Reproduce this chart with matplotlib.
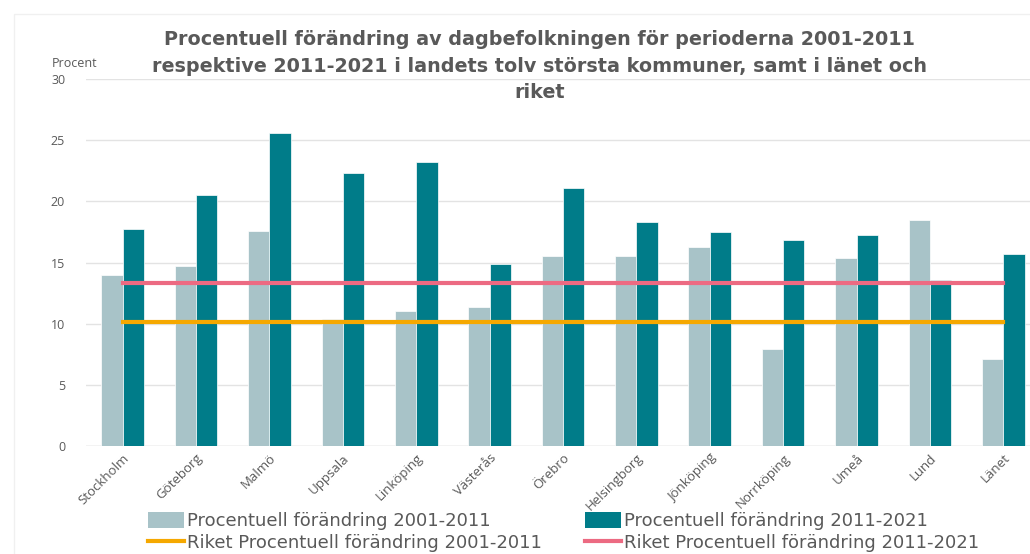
import numpy as np
import matplotlib
matplotlib.use("Agg")
import matplotlib.pyplot as plt
from matplotlib.patches import Rectangle
from matplotlib.lines import Line2D
from matplotlib.patches import Patch

kommuner = ['Stockholm', 'Göteborg', 'Malmö', 'Uppsala', 'Linköping', 'Västerås',
            'Örebro', 'Helsingborg', 'Jönköping', 'Norrköping', 'Umeå', 'Lund', 'Länet']
andring_2001_2011 = [14.0, 14.75, 17.6, 10.4, 11.0, 11.4, 15.5, 15.5, 16.3, 7.9, 15.4, 18.5, 7.1]
andring_2011_2021 = [17.7, 20.5, 25.6, 22.35, 23.2, 14.9, 21.1, 18.3, 17.5, 16.8, 17.25, 13.6, 15.7]
riket_2001_2011 = 10.1
riket_2011_2021 = 13.3
y_ticks = [0, 5, 10, 15, 20, 25, 30]

c_light = '#A8C3C8'
c_dark = '#007C89'
c_orange = '#F5A800'
c_pink = '#EC6A82'
c_text = '#595959'

plt.rcParams['font.family'] = ['Open Sans', 'DejaVu Sans']

fig = plt.figure(figsize=(10.30, 5.54), dpi=100)
# faint chart frame
fig.patches.append(Rectangle((14 / 1030, -0.1), 1.2, (554 - 14) / 554 + 0.1,
                             transform=fig.transFigure, fill=False,
                             edgecolor='#F0F0F0', linewidth=1))

# axes: y=0 at px 446, y=30 at px 79; x from 86 to 1040
ax = fig.add_axes([86 / 1030, (554 - 446) / 554, (1040 - 86) / 1030, (446 - 79) / 554])

x = np.arange(len(kommuner))
w = 0.29
ax.bar(x - w / 2, andring_2001_2011, width=w, color=c_light, edgecolor='white', linewidth=0.5, zorder=2)
ax.bar(x + w / 2, andring_2011_2021, width=w, color=c_dark, edgecolor='white', linewidth=0.5, zorder=2)
ax.plot(x, [riket_2001_2011] * len(x), color=c_orange, linewidth=3, zorder=3)
ax.plot(x, [riket_2011_2021] * len(x), color=c_pink, linewidth=3, zorder=3)

ax.set_xlim(-0.5, len(kommuner) - 0.5)
ax.set_ylim(0, 30)
ax.set_yticks(y_ticks)
ax.set_yticklabels([str(t) for t in y_ticks], color=c_text, fontsize=9)
ax.set_xticks(x)
ax.set_xticklabels(kommuner, rotation=45, ha='right', rotation_mode='anchor',
                   color=c_text, fontsize=9.5)
ax.tick_params(axis='both', length=0)
ax.tick_params(axis='y', pad=15)
ax.tick_params(axis='x', pad=4)
ax.grid(axis='y', color='#E3E3E3', linewidth=1, zorder=0)
for s in ax.spines.values():
    s.set_visible(False)
ax.axhline(0, color='#D9D9D9', linewidth=1, zorder=1)

fig.text(52 / 1030, 1 - 63 / 554, 'Procent', fontsize=9, color=c_text, va='center', ha='left')

fig.text(540 / 1030, 1 - 66 / 554,
         'Procentuell förändring av dagbefolkningen för perioderna 2001-2011\n'
         'respektive 2011-2021 i landets tolv största kommuner, samt i länet och\n'
         'riket', ha='center', va='center', fontsize=13.8, fontweight='bold',
         family=['DejaVu Sans'], color=c_text, linespacing=1.47)

handles = [Patch(facecolor=c_light), Patch(facecolor=c_dark),
           Line2D([], [], color=c_orange, linewidth=3),
           Line2D([], [], color=c_pink, linewidth=3)]
labels = ['Procentuell förändring 2001-2011', 'Procentuell förändring 2011-2021',
          'Riket Procentuell förändring 2001-2011', 'Riket Procentuell förändring 2011-2021']
# order for 2 columns (column-major filling)
order = [0, 2, 1, 3]
leg = fig.legend([handles[i] for i in order], [labels[i] for i in order],
                 ncol=2, loc='center left', bbox_to_anchor=(139 / 1030, 1 - 532 / 554),
                 frameon=False, handlelength=2.0, handleheight=1.0,
                 handletextpad=0.15, columnspacing=2.4, labelspacing=0.2,
                 borderpad=0, prop={'family': ['DejaVu Sans'], 'size': 13})
for t in leg.get_texts():
    t.set_color(c_text)

fig.savefig('out.png', dpi=100)
